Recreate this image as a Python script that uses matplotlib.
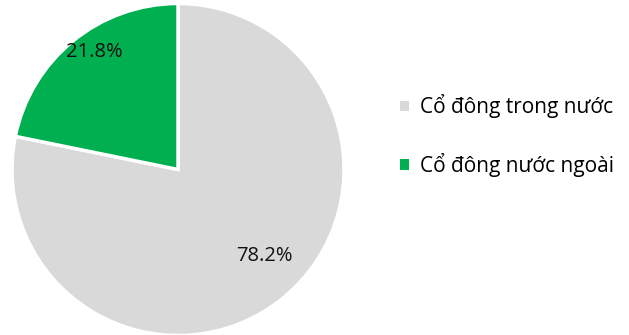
import numpy as np
import matplotlib.pyplot as plt

plt.rcParams['font.family'] = ['Open Sans', 'DejaVu Sans']

# shareholder structure
labels = ['Cổ đông trong nước', 'Cổ đông nước ngoài']
shares = [78.2, 21.8]
colors = ['#D9D9D9', '#00AF50']
pct_dist = [0.735, 0.87]
pct_turn = [5.5, -3.9]   # degrees, nudges labels off the wedge midline

fig = plt.figure(figsize=(6.29, 3.35), dpi=100)
ax = fig.add_axes([12 / 629, -0.5 / 335, 332 / 629, 332 / 335])

wedges, texts, autotexts = ax.pie(
    shares, colors=colors, startangle=90, counterclock=False,
    autopct='%1.1f%%', pctdistance=0.8,
    wedgeprops=dict(edgecolor='white', linewidth=2.5),
    textprops=dict(fontsize=14.5, color='#111111'))
ax.set_aspect('equal')
ax.set_xlim(-1, 1)
ax.set_ylim(-1, 1)

# push each percent label to its own radius
for w, t, d, turn in zip(wedges, autotexts, pct_dist, pct_turn):
    ang = np.deg2rad((w.theta1 + w.theta2) / 2 + turn)
    t.set_position((d * np.cos(ang), d * np.sin(ang)))

leg = fig.legend(wedges, labels, loc='center left', bbox_to_anchor=(400 / 629, 0.595),
                 frameon=False, fontsize=15, handlelength=0.42, handleheight=0.42,
                 handletextpad=0.55, labelspacing=1.65, borderpad=0, borderaxespad=0)
for h in leg.legend_handles:
    h.set_edgecolor('none')

fig.savefig('out.png', dpi=100)
